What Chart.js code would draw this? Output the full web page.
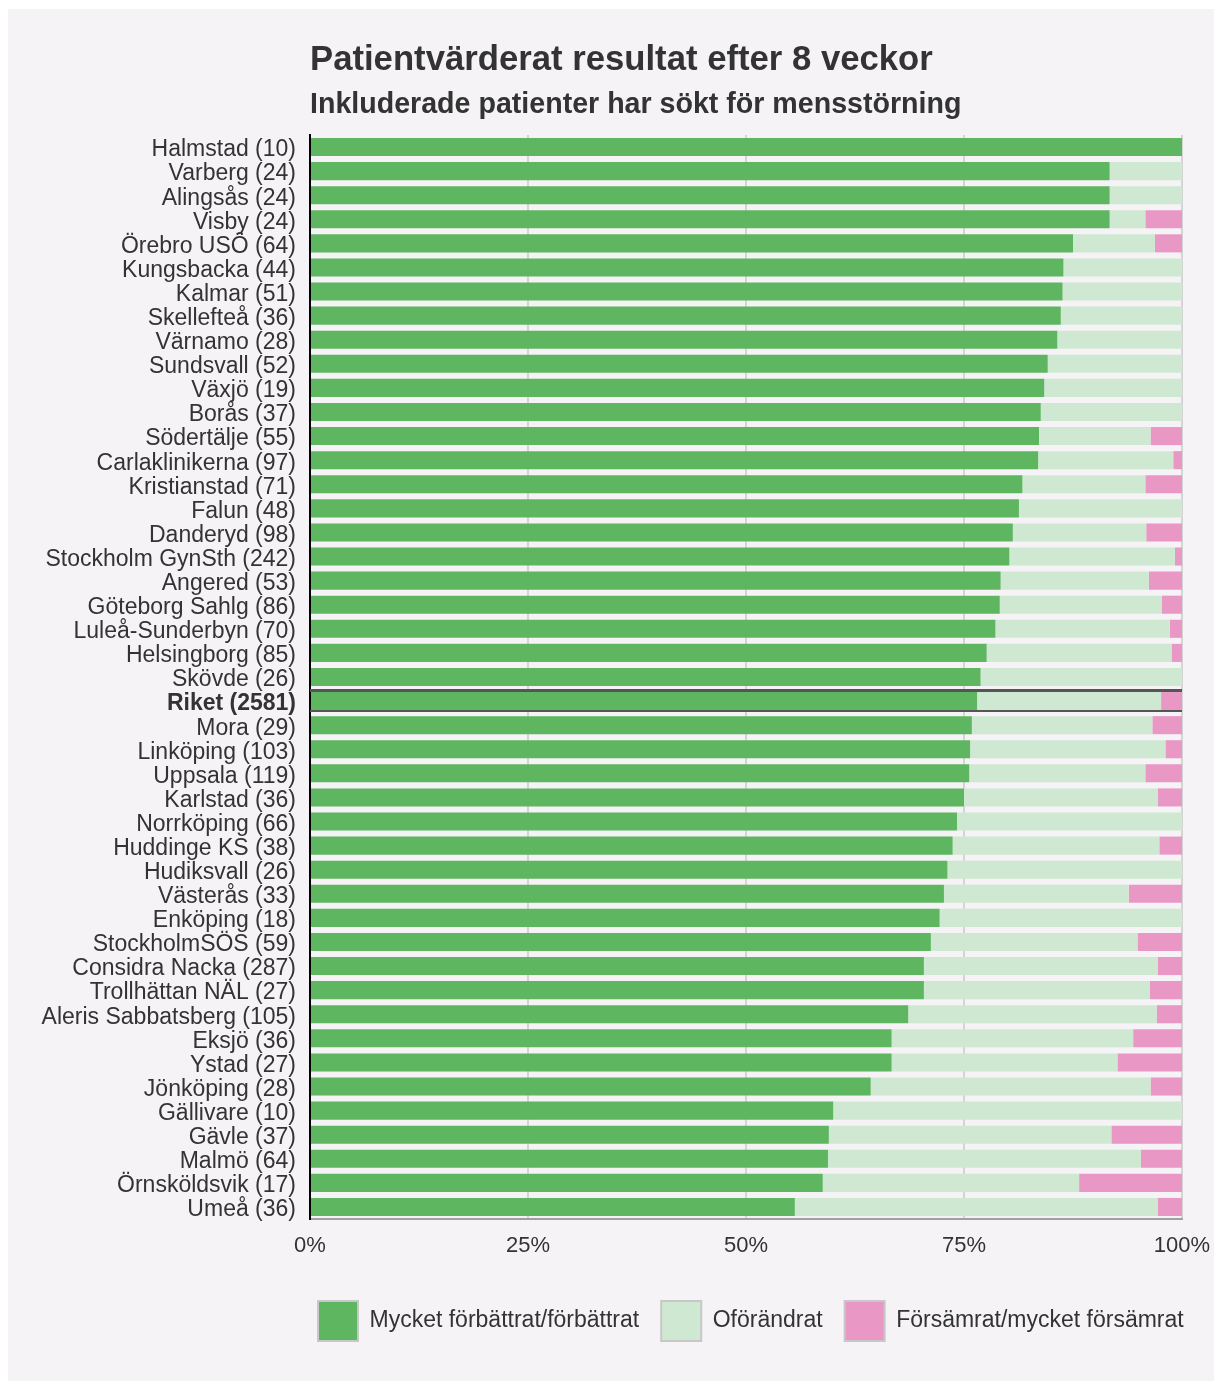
<!DOCTYPE html>
<html>
<head>
<meta charset="utf-8">
<script src="https://cdn.jsdelivr.net/npm/chart.js@4"></script>
<style>
  html, body { margin: 0; padding: 0; background: #fff; }
  #wrap { position: absolute; left: 8px; top: 9px; width: 1206px; height: 1372px; background: #f5f3f6; }
</style>
</head>
<body>
<div id="wrap"><canvas id="chart"></canvas></div>
<script>
const categories = [
  'Halmstad (10)', 'Varberg (24)', 'Alingsås (24)', 'Visby (24)', 'Örebro USÖ (64)',
  'Kungsbacka (44)', 'Kalmar (51)', 'Skellefteå (36)', 'Värnamo (28)', 'Sundsvall (52)',
  'Växjö (19)', 'Borås (37)', 'Södertälje (55)', 'Carlaklinikerna (97)', 'Kristianstad (71)',
  'Falun (48)', 'Danderyd (98)', 'Stockholm GynSth (242)', 'Angered (53)', 'Göteborg Sahlg (86)',
  'Luleå-Sunderbyn (70)', 'Helsingborg (85)', 'Skövde (26)', 'Riket (2581)', 'Mora (29)',
  'Linköping (103)', 'Uppsala (119)', 'Karlstad (36)', 'Norrköping (66)', 'Huddinge KS (38)',
  'Hudiksvall (26)', 'Västerås (33)', 'Enköping (18)', 'StockholmSÖS (59)', 'Considra Nacka (287)',
  'Trollhättan NÄL (27)', 'Aleris Sabbatsberg (105)', 'Eksjö (36)', 'Ystad (27)', 'Jönköping (28)',
  'Gällivare (10)', 'Gävle (37)', 'Malmö (64)', 'Örnsköldsvik (17)', 'Umeå (36)'
];

const improved = [
  100, 91.7, 91.7, 91.7, 87.5,
  86.4, 86.3, 86.1, 85.7, 84.6,
  84.2, 83.8, 83.6, 83.5, 81.7,
  81.3, 80.6, 80.2, 79.2, 79.1,
  78.6, 77.6, 76.9, 76.5, 75.9,
  75.7, 75.6, 75.0, 74.2, 73.7,
  73.1, 72.7, 72.2, 71.2, 70.4,
  70.4, 68.6, 66.7, 66.7, 64.3,
  60.0, 59.5, 59.4, 58.8, 55.6
];

const worsened = [
  0, 0, 0, 4.2, 3.1,
  0, 0, 0, 0, 0,
  0, 0, 3.6, 1.0, 4.2,
  0, 4.1, 0.8, 3.8, 2.3,
  1.4, 1.2, 0, 2.4, 3.4,
  1.9, 4.2, 2.8, 0, 2.6,
  0, 6.1, 0, 5.1, 2.8,
  3.7, 2.9, 5.6, 7.4, 3.6,
  0, 8.1, 4.7, 11.8, 2.8
];

const unchanged = improved.map((v, i) => +(100 - v - worsened[i]).toFixed(1));

const seriesNames = ['Mycket förbättrat/förbättrat', 'Oförändrat', 'Försämrat/mycket försämrat'];
const xTicks = [0, 25, 50, 75, 100];

const FONT = '"Liberation Sans", Arial, sans-serif';
const TEXT = '#333333';
const RIKET = categories.findIndex(c => c.startsWith('Riket'));
const LEGEND_PAD = 22;

// dark lines above and below the national row
const riketLines = {
  id: 'riketLines',
  afterDatasetsDraw(chart) {
    const bar = chart.getDatasetMeta(0).data[RIKET];
    if (!bar) return;
    const { ctx, chartArea } = chart;
    const half = bar.height / 2;
    ctx.save();
    ctx.strokeStyle = '#555555';
    ctx.lineWidth = 3;
    ctx.beginPath();
    ctx.moveTo(chartArea.left, bar.y - half - 1.5);
    ctx.lineTo(chartArea.right, bar.y - half - 1.5);
    ctx.stroke();
    ctx.lineWidth = 2;
    ctx.beginPath();
    ctx.moveTo(chartArea.left, bar.y + half + 1);
    ctx.lineTo(chartArea.right, bar.y + half + 1);
    ctx.stroke();
    ctx.restore();
  }
};

// legend starts under the plot area, like the title
const legendShift = {
  id: 'legendShift',
  afterLayout(chart) {
    const lg = chart.legend;
    if (!lg) return;
    const dx = chart.chartArea.left + 8 - LEGEND_PAD - lg.left;
    lg.left += dx;
    lg.right += dx;
  }
};

new Chart(document.getElementById('chart'), {
  type: 'bar',
  data: {
    labels: categories,
    datasets: [
      { label: seriesNames[0], data: improved, backgroundColor: '#5eb660' },
      { label: seriesNames[1], data: unchanged, backgroundColor: '#cfe8d2' },
      { label: seriesNames[2], data: worsened, backgroundColor: '#e997c4' }
    ]
  },
  options: {
    indexAxis: 'y',
    responsive: true,
    maintainAspectRatio: false,
    animation: false,
    layout: { padding: { left: 0, right: 0, top: 0, bottom: 30 } },
    datasets: { bar: { categoryPercentage: 1, barPercentage: 0.75, borderWidth: 0 } },
    scales: {
      x: {
        stacked: true,
        min: 0,
        max: 100,
        afterBuildTicks: (s) => { s.ticks = xTicks.map(v => ({ value: v })); },
        afterFit: (s) => { s.paddingRight = 32; s.height = 60; },
        grid: { color: '#d4d4d4', lineWidth: 2, drawTicks: false },
        border: { color: '#a0a0a0', width: 2 },
        ticks: {
          padding: 14,
          color: TEXT,
          font: { family: FONT, size: 22 },
          callback: (v) => v + '%'
        }
      },
      y: {
        stacked: true,
        afterFit: (s) => { s.width = 302; },
        grid: { display: false, drawTicks: false },
        border: { color: '#000000', width: 2 },
        ticks: {
          padding: 14,
          labelOffset: 3,
          autoSkip: false,
          color: TEXT,
          font: (c) => ({ family: FONT, size: 23, weight: c.index === RIKET ? 'bold' : 'normal' })
        }
      }
    },
    plugins: {
      title: {
        display: true,
        text: 'Patientvärderat resultat efter 8 veckor',
        align: 'start',
        fullSize: false,
        color: TEXT,
        font: { family: FONT, size: 34.7, weight: 'bold' },
        padding: { top: 31, bottom: 6 }
      },
      subtitle: {
        display: true,
        text: 'Inkluderade patienter har sökt för mensstörning',
        align: 'start',
        fullSize: false,
        color: TEXT,
        font: { family: FONT, size: 28.6, weight: 'bold' },
        padding: { top: 0, bottom: 13 }
      },
      legend: {
        position: 'bottom',
        align: 'start',
        labels: {
          boxWidth: 40,
          boxHeight: 40,
          padding: LEGEND_PAD,
          color: TEXT,
          font: { family: FONT, size: 23 },
          generateLabels: (chart) => Chart.defaults.plugins.legend.labels.generateLabels(chart)
            .map(l => Object.assign(l, { strokeStyle: '#c8c8c8', lineWidth: 2 }))
        }
      },
      tooltip: { enabled: false }
    }
  },
  plugins: [riketLines, legendShift]
});
</script>
</body>
</html>
